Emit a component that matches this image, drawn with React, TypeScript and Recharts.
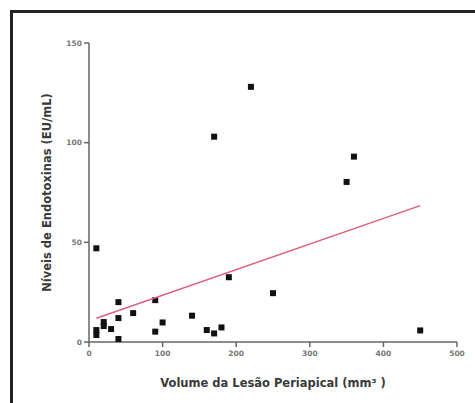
import React, { useLayoutEffect } from "react";
import { ScatterChart, Scatter, XAxis, YAxis, ZAxis } from "recharts";

const volumes = [10, 10, 10, 20, 20, 30, 40, 40, 40, 60, 90, 90, 100, 140, 160, 170, 170, 180, 190, 220, 250, 350, 360, 450];
const endotoxins = [47, 6, 3.5, 10, 8, 6.5, 20, 12, 1.5, 14.5, 21, 5.2, 9.8, 13.2, 6, 4.3, 103, 7.3, 32.5, 128, 24.5, 80.3, 93, 5.8];
const fitX = [10, 450];
const fitY = [11.9, 68.4];
const xTicks = [0, 100, 200, 300, 400, 500];
const yTicks = [0, 50, 100, 150];

const points = volumes.map((v, i) => ({ x: v, y: endotoxins[i] }));
const fitLine = fitX.map((v, i) => ({ x: v, y: fitY[i] }));

const Square = (props: any) => {
  const { cx, cy } = props;
  if (cx == null || cy == null) return <g />;
  return <rect x={cx - 3} y={cy - 3} width={6} height={6} fill="#111" />;
};
const Nothing = () => <g />;

const font = "DejaVu Sans, Verdana, sans-serif";
const axisColor = "#666";
const tickStyle = { fontSize: 7.5, fill: "#777", fontFamily: font, fontWeight: 700 };
const labelStyle = { fontSize: 11.5, fontWeight: 700, fill: "#3a3a3a", fontFamily: font };

export default function App() {
  useLayoutEffect(() => {
    document.documentElement.style.overflow = "hidden";
    document.body.style.overflow = "hidden";
  }, []);
  return (
    <div style={{ position: "fixed", left: 0, top: 0, width: 475, height: 403, background: "#fff", overflow: "hidden" }}>
      <div style={{ position: "absolute", left: 10, top: 10, width: 462, height: 390, borderLeft: "3px solid #222", borderTop: "3px solid #222" }} />
      <div style={{ position: "absolute", left: 0, top: 0 }}>
        <ScatterChart width={475} height={403} margin={{ top: 43, right: 18, bottom: 31, left: 0 }} accessibilityLayer={false}>
          <XAxis
            type="number"
            dataKey="x"
            domain={[0, 500]}
            ticks={xTicks}
            height={30}
            axisLine={{ stroke: axisColor, strokeWidth: 1.5 }}
            tickLine={{ stroke: axisColor, strokeWidth: 1.5 }}
            tickSize={5}
            tick={tickStyle}
            tickMargin={4}
            label={{ value: "Volume da Lesão Periapical (mm³ )", position: "bottom", offset: 7, style: labelStyle }}
          />
          <YAxis
            type="number"
            dataKey="y"
            domain={[0, 150]}
            ticks={yTicks}
            width={89}
            axisLine={{ stroke: axisColor, strokeWidth: 1.5 }}
            tickLine={{ stroke: axisColor, strokeWidth: 1.5 }}
            tickSize={5}
            tick={tickStyle}
            tickMargin={2}
            label={{ value: "Níveis de Endotoxinas (EU/mL)", angle: -90, position: "insideLeft", offset: 47, style: { ...labelStyle, textAnchor: "middle" } }}
          />
          <ZAxis range={[36, 36]} />
          <Scatter data={points} shape={Square} isAnimationActive={false} />
          <Scatter data={fitLine} line={{ stroke: "#e0607a", strokeWidth: 1.5 }} shape={Nothing} isAnimationActive={false} />
        </ScatterChart>
      </div>
    </div>
  );
}
